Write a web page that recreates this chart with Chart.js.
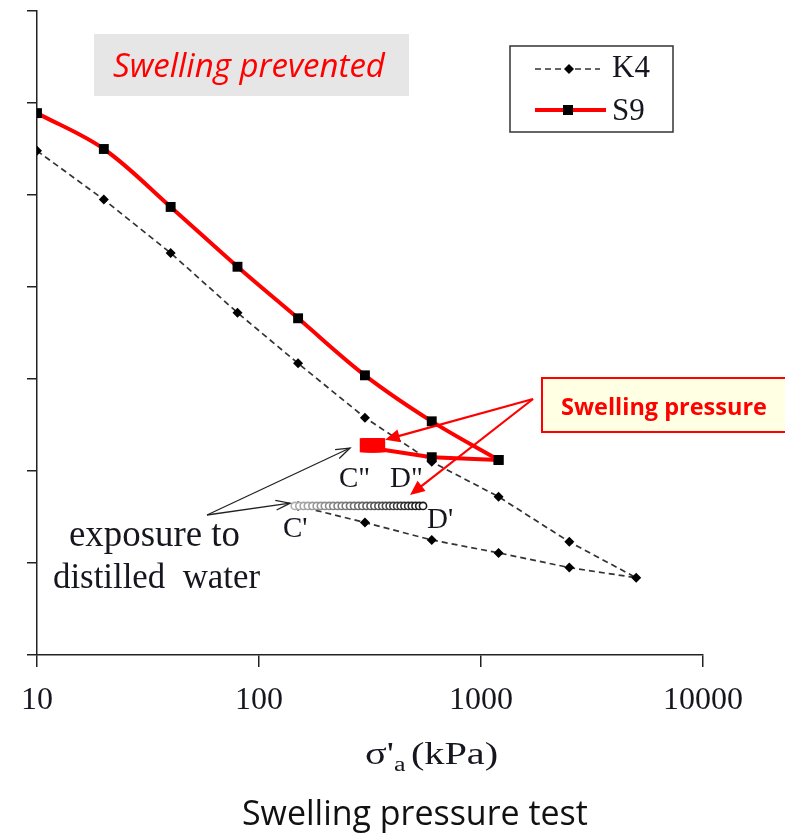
<!DOCTYPE html>
<html>
<head>
<meta charset="utf-8">
<script src="https://cdn.jsdelivr.net/npm/chart.js@4.4.1/dist/chart.umd.min.js"></script>
<style>
  body { margin: 0; background: #fff; }
  #wrap { width: 785px; height: 840px; position: relative; }
</style>
</head>
<body>
<div id="wrap"><canvas id="chart" width="785" height="840"></canvas></div>
<script>
// tick labels on the stress axis
const xTickValues = [10, 100, 1000, 10000];

// K4: loading to 5000 kPa, then unloading back to 150 kPa
const k4Stress = [10, 20, 40, 80, 150, 300, 600, 1200, 2500, 5000, 2500, 1200, 600, 300, 150];
const k4Level = [5.48, 4.95, 4.37, 3.72, 3.17, 2.58, 2.10, 1.72, 1.23, 0.84, 0.95, 1.11, 1.25, 1.44, 1.62];

// K4 wetting at constant volume (C' -> D')
const k4HoldStress = [145, 152, 159, 166, 174, 182, 190, 198, 207, 216, 226, 236, 246, 257, 268, 280, 292,
  305, 318, 331, 345, 359, 373, 388, 403, 419, 435, 452, 470, 488, 507, 527, 548];
const k4HoldLevel = [1.62, 1.62, 1.62, 1.62, 1.62, 1.62, 1.62, 1.62, 1.62, 1.62, 1.62, 1.62, 1.62, 1.62, 1.62, 1.62, 1.62,
  1.62, 1.62, 1.62, 1.62, 1.62, 1.62, 1.62, 1.62, 1.62, 1.62, 1.62, 1.62, 1.62, 1.62, 1.62, 1.62];

// S9: loading to 1200 kPa, unloading to 300 kPa
const s9LoadStress = [10, 20, 40, 80, 150, 300, 600, 1200];
const s9LoadLevel = [5.89, 5.50, 4.87, 4.22, 3.66, 3.04, 2.54, 2.12];
const s9UnloadStress = [1200, 600, 300];
const s9UnloadLevel = [2.12, 2.15, 2.26];

// S9 wetting at constant volume (C'' -> D'')
const s9HoldStress = [306, 312, 318, 325, 331, 338, 344];
const s9HoldLevel = [2.28, 2.28, 2.28, 2.28, 2.28, 2.28, 2.28];

// arrow tips for the annotations, in data units [stress, level]
const pressureArrowTips = [[370, 2.34], [479, 1.74]];
const exposureArrowTips = [[257, 2.25], [138, 1.65]];

const zip = (xs, ys) => xs.map((x, i) => ({ x: x, y: ys[i] }));

const serif = "'Liberation Serif', 'DejaVu Serif', serif";
const sans = "'Open Sans', 'Noto Sans', sans-serif";
const ink = "#16161f";

function fitText(ctx, text, style, family, left, baseline, width, color) {
  ctx.font = style + " 100px " + family;
  const size = 100 * width / ctx.measureText(text).width;
  ctx.font = style + " " + size.toFixed(2) + "px " + family;
  ctx.fillStyle = color;
  ctx.textAlign = "left";
  ctx.textBaseline = "alphabetic";
  ctx.fillText(text, left, baseline);
}

function arrow(ctx, x1, y1, x2, y2, color, lw, head, filled) {
  const a = Math.atan2(y2 - y1, x2 - x1);
  ctx.save();
  ctx.strokeStyle = color;
  ctx.fillStyle = color;
  ctx.lineWidth = lw;
  ctx.setLineDash([]);
  const endX = filled ? x2 - Math.cos(a) * head * 0.8 : x2;
  const endY = filled ? y2 - Math.sin(a) * head * 0.8 : y2;
  ctx.beginPath();
  ctx.moveTo(x1, y1);
  ctx.lineTo(endX, endY);
  ctx.stroke();
  const spread = filled ? 0.42 : 0.33;
  ctx.beginPath();
  ctx.moveTo(x2 - Math.cos(a - spread) * head, y2 - Math.sin(a - spread) * head);
  ctx.lineTo(x2, y2);
  ctx.lineTo(x2 - Math.cos(a + spread) * head, y2 - Math.sin(a + spread) * head);
  if (filled) { ctx.closePath(); ctx.fill(); } else { ctx.stroke(); }
  ctx.restore();
}

const notes = {
  id: "notes",
  beforeDatasetsDraw(chart) {
    const ctx = chart.ctx;
    ctx.save();
    ctx.fillStyle = "#e6e6e6";
    ctx.fillRect(94, 34, 315, 62);
    fitText(ctx, "Swelling prevented", "italic", sans, 113, 77, 272, "#ff0000");
    ctx.restore();
  },
  afterDraw(chart) {
    const ctx = chart.ctx;
    const sx = chart.scales.x, sy = chart.scales.y;
    ctx.save();

    // legend
    ctx.strokeStyle = "#333";
    ctx.lineWidth = 1.5;
    ctx.strokeRect(510, 46, 163, 86);
    ctx.strokeStyle = "#333";
    ctx.setLineDash([6, 4]);
    ctx.beginPath(); ctx.moveTo(535, 69); ctx.lineTo(600, 69); ctx.stroke();
    ctx.setLineDash([]);
    ctx.fillStyle = "#000";
    ctx.beginPath();
    ctx.moveTo(569, 64); ctx.lineTo(574, 69); ctx.lineTo(569, 74); ctx.lineTo(564, 69);
    ctx.closePath(); ctx.fill();
    ctx.strokeStyle = "#ff0000";
    ctx.lineWidth = 4;
    ctx.beginPath(); ctx.moveTo(535, 110); ctx.lineTo(606, 110); ctx.stroke();
    ctx.fillStyle = "#000";
    ctx.fillRect(563, 105, 10, 10);
    ctx.font = "31px " + serif;
    ctx.fillStyle = ink;
    ctx.textBaseline = "alphabetic";
    ctx.fillText("K4", 612, 77);
    ctx.fillText("S9", 612, 120);

    // point labels
    ctx.font = "29px " + serif;
    ctx.fillText("C\"", 339, 487);
    ctx.fillText("D\"", 390, 487);
    ctx.fillText("C'", 283, 537);
    ctx.fillText("D'", 427, 528);

    // exposure note and its arrows
    fitText(ctx, "exposure to", "", serif, 69, 546, 171, ink);
    fitText(ctx, "distilled  water", "", serif, 53, 588, 207, ink);
    exposureArrowTips.forEach(t => {
      arrow(ctx, 207, 515, sx.getPixelForValue(t[0]), sy.getPixelForValue(t[1]), "#222", 1.3, 15, false);
    });

    // swelling pressure box and arrows
    pressureArrowTips.forEach(t => {
      arrow(ctx, 533, 399, sx.getPixelForValue(t[0]), sy.getPixelForValue(t[1]), "#ff0000", 2.2, 16, true);
    });
    ctx.fillStyle = "#ffffe3";
    ctx.fillRect(541, 378, 250, 54);
    ctx.strokeStyle = "#ff0000";
    ctx.lineWidth = 2;
    ctx.strokeRect(542, 378, 250, 54);
    fitText(ctx, "Swelling pressure", "bold", sans, 561, 415, 206, "#ff0000");

    // axis title, drawn slightly stretched like the original figure
    ctx.save();
    ctx.translate(365, 764);
    ctx.scale(1.3, 1);
    ctx.fillStyle = ink;
    ctx.font = "31px " + serif;
    ctx.fillText("\u03c3'", 0, 0);
    const w = ctx.measureText("\u03c3'").width;
    ctx.font = "20px " + serif;
    ctx.fillText("a", w, 7);
    ctx.font = "31px " + serif;
    ctx.fillText("(kPa)", w + 13, 0);
    ctx.restore();

    // caption
    fitText(ctx, "Swelling pressure test", "", sans, 242, 825, 346, "#111");
    ctx.restore();
  }
};

const holdShade = ctx => {
  const f = ctx.dataIndex / (k4HoldStress.length - 1);
  const g = Math.round(175 - 150 * f);
  return "rgb(" + g + "," + g + "," + g + ")";
};

new Chart(document.getElementById("chart"), {
  type: "line",
  data: {
    datasets: [
      {
        label: "S9 wetting",
        data: zip(s9HoldStress, s9HoldLevel),
        showLine: false,
        pointStyle: "rect",
        pointRadius: 10,
        pointBackgroundColor: "#ff0000",
        pointBorderColor: "#ff0000",
        pointBorderWidth: 0,
        order: 0
      },
      {
        label: "S9",
        data: zip(s9LoadStress, s9LoadLevel),
        borderColor: "#ff0000",
        borderWidth: 4,
        tension: 0.35,
        pointStyle: "rect",
        pointRadius: 7,
        pointBackgroundColor: "#000",
        pointBorderColor: "#000",
        pointBorderWidth: 0,
        order: 1
      },
      {
        label: "S9 unloading",
        data: zip(s9UnloadStress, s9UnloadLevel),
        borderColor: "#ff0000",
        borderWidth: 4,
        tension: 0,
        pointStyle: "rect",
        pointRadius: 7,
        pointBackgroundColor: "#000",
        pointBorderColor: "#000",
        pointBorderWidth: 0,
        order: 2
      },
      {
        label: "K4 wetting",
        data: zip(k4HoldStress, k4HoldLevel),
        showLine: false,
        pointStyle: "circle",
        pointRadius: 3.6,
        pointBackgroundColor: "#fff",
        pointBorderColor: holdShade,
        pointBorderWidth: 1.6,
        order: 3
      },
      {
        label: "K4",
        data: zip(k4Stress, k4Level),
        borderColor: "#333",
        borderWidth: 1.7,
        borderDash: [6, 4],
        tension: 0,
        pointStyle: "rectRot",
        pointRadius: 5,
        pointBackgroundColor: "#000",
        pointBorderColor: "#000",
        pointBorderWidth: 0,
        order: 4
      }
    ]
  },
  options: {
    responsive: false,
    animation: false,
    layout: { padding: { top: 11, right: 82, left: 0, bottom: 0 } },
    plugins: {
      legend: { display: false },
      tooltip: { enabled: false }
    },
    scales: {
      x: {
        type: "logarithmic",
        min: 10,
        max: 10000,
        afterBuildTicks: s => { s.ticks = xTickValues.map(v => ({ value: v })); },
        afterFit: s => { s.height = 185; },
        ticks: {
          autoSkip: false,
          maxRotation: 0,
          padding: 14,
          color: ink,
          font: { family: serif, size: 32 },
          callback: v => String(v)
        },
        grid: { drawOnChartArea: false, tickLength: 12, color: "#222", lineWidth: 1.5 },
        border: { color: "#222", width: 1.5 }
      },
      y: {
        min: 0,
        max: 7,
        afterFit: s => { s.width = 37; },
        ticks: { stepSize: 1, display: false },
        grid: { drawOnChartArea: false, tickLength: 10, color: "#222", lineWidth: 1.5 },
        border: { color: "#222", width: 1.5 }
      }
    }
  },
  plugins: [notes]
});
</script>
</body>
</html>
